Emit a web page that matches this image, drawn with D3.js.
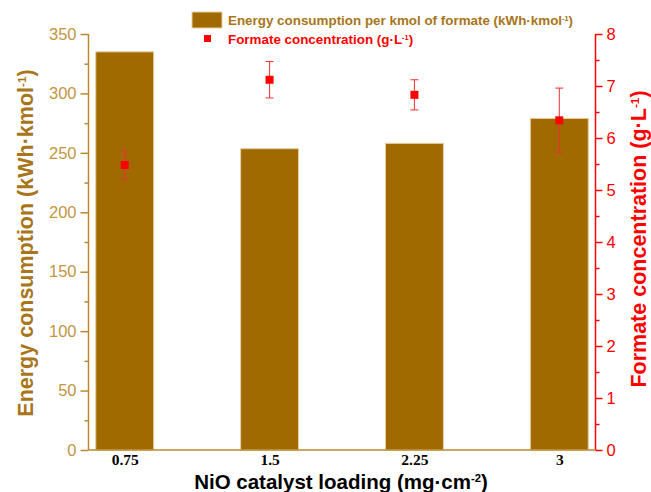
<!DOCTYPE html>
<html><head><meta charset="utf-8">
<script src="https://cdn.jsdelivr.net/npm/d3@7"></script>
<style>body{margin:0;background:#fff}svg{display:block}</style>
</head><body>
<svg id="c" width="651" height="492"></svg>
<script>
const categories = ["0.75", "1.5", "2.25", "3"];
const energy = [335, 253.5, 258, 279];
const formate = [5.48, 7.12, 6.83, 6.34];
const formateErr = [0.27, 0.35, 0.29, 0.62];
const leftTicks = [0, 50, 100, 150, 200, 250, 300, 350];
const rightTicks = [0, 1, 2, 3, 4, 5, 6, 7, 8];

const svg = d3.select("#c");
const L = 88.5, R = 595.5, T = 34, B = 450;
const x = d3.scalePoint().domain(categories).range([L, R]).padding(0.25);
const yL = d3.scaleLinear().domain([0, 350]).range([B, T]);
const yR = d3.scaleLinear().domain([0, 8]).range([B, T]);
const barW = x.step() * 0.4;

const barCol = "#A06A00", axisCol = "#B98A2E", tickTxt = "#C4963F", lblCol = "#A8751A";
const red = "#FF0000";

// bars
svg.append("g").selectAll("rect").data(categories).join("rect")
  .attr("x", (d) => x(d) - barW / 2)
  .attr("width", barW)
  .attr("y", (d, i) => yL(energy[i]))
  .attr("height", (d, i) => B - yL(energy[i]))
  .attr("fill", barCol).attr("stroke", "#E6CFA0").attr("stroke-width", 1);

// left axis
const gl = svg.append("g").attr("transform", `translate(${L},0)`)
  .call(d3.axisLeft(yL).tickValues(leftTicks).tickSize(8).tickPadding(4));
gl.select(".domain").attr("stroke", axisCol).attr("stroke-width", 1.5).attr("d", `M0,${B}V${T}`);
gl.selectAll(".tick line").attr("stroke", axisCol).attr("stroke-width", 1.5);
gl.selectAll(".tick text").attr("fill", tickTxt).style("font-family", "Arial, 'Liberation Sans'").style("font-size", "16.5px");
const glm = svg.append("g").attr("transform", `translate(${L},0)`)
  .call(d3.axisLeft(yL).tickValues(d3.range(25, 350, 50)).tickSize(4).tickFormat(""));
glm.select(".domain").remove();
glm.selectAll(".tick line").attr("stroke", axisCol).attr("stroke-width", 1.5);

// right axis
const gr = svg.append("g").attr("transform", `translate(${R},0)`)
  .call(d3.axisRight(yR).tickValues(rightTicks).tickSize(7).tickPadding(4));
gr.select(".domain").attr("stroke", red).attr("stroke-width", 1.5).attr("d", `M0,${B}V${T}`);
gr.selectAll(".tick line").attr("stroke", red).attr("stroke-width", 1.5);
gr.selectAll(".tick text").attr("fill", red).style("font-family", "Arial, 'Liberation Sans'").style("font-size", "16.5px");
const grm = svg.append("g").attr("transform", `translate(${R},0)`)
  .call(d3.axisRight(yR).tickValues(d3.range(0.5, 8, 1)).tickSize(4).tickFormat(""));
grm.select(".domain").remove();
grm.selectAll(".tick line").attr("stroke", red).attr("stroke-width", 1.5);

// bottom axis
const gb = svg.append("g").attr("transform", `translate(0,${B})`)
  .call(d3.axisBottom(x).tickSize(0).tickPadding(4));
gb.select(".domain").attr("stroke", axisCol).attr("stroke-width", 1.5).attr("d", `M${L},0H${R}`);
gb.selectAll(".tick text").attr("fill", "#000").style("font-family", "'Liberation Serif', 'Times New Roman', serif")
  .style("font-weight", "bold").style("font-size", "15.5px");

// error bars & markers
const eg = svg.append("g");
categories.forEach((c, i) => {
  const cx = x(c), y1 = yR(formate[i] + formateErr[i]), y2 = yR(formate[i] - formateErr[i]);
  eg.append("line").attr("x1", cx).attr("x2", cx).attr("y1", y1).attr("y2", y2).attr("stroke", "#F03030").attr("stroke-width", 1);
  [y1, y2].forEach(yy => eg.append("line").attr("x1", cx - 4).attr("x2", cx + 4).attr("y1", yy).attr("y2", yy).attr("stroke", "#F03030").attr("stroke-width", 1));
});
eg.selectAll("rect").data(categories).join("rect")
  .attr("x", (d) => x(d) - 4).attr("y", (d, i) => yR(formate[i]) - 4)
  .attr("width", 8).attr("height", 8).attr("fill", red);

// axis titles
function title(sel, parts, fs) {
  parts.forEach(p => {
    const t = sel.append("tspan").text(p.t);
    if (p.sup) t.attr("baseline-shift", "60%").style("font-size", (fs * 0.55) + "px");
  });
}
const font = "Arial, 'Liberation Sans', sans-serif";
const tl = svg.append("text").attr("transform", "translate(33,243) rotate(-90)").attr("text-anchor", "middle")
  .attr("fill", lblCol).style("font-family", font).style("font-weight", "bold").style("font-size", "21.5px");
title(tl, [{t: "Energy consumption (kWh·kmol"}, {t: "-1", sup: true}, {t: ")"}], 21.5);
const tr = svg.append("text").attr("transform", "translate(646,239) rotate(-90)").attr("text-anchor", "middle")
  .attr("fill", red).style("font-family", font).style("font-weight", "bold").style("font-size", "21.5px");
title(tr, [{t: "Formate concentration (g·L"}, {t: "-1", sup: true}, {t: ")"}], 21.5);
const tb = svg.append("text").attr("x", 341).attr("y", 489).attr("text-anchor", "middle")
  .attr("fill", "#000").style("font-family", font).style("font-weight", "bold").style("font-size", "20.5px");
title(tb, [{t: "NiO catalyst loading (mg·cm"}, {t: "-2", sup: true}, {t: ")"}], 20.5);

// legend
svg.append("rect").attr("x", 192).attr("y", 12).attr("width", 30).attr("height", 16)
  .attr("fill", barCol).attr("stroke", "#E6CFA0").attr("stroke-width", 1);
const lg1 = svg.append("text").attr("x", 228).attr("y", 25).attr("fill", lblCol)
  .style("font-family", font).style("font-weight", "bold").style("font-size", "13.4px");
title(lg1, [{t: "Energy consumption per kmol of formate (kWh·kmol"}, {t: "-1", sup: true}, {t: ")"}], 13.4);
svg.append("rect").attr("x", 204).attr("y", 35).attr("width", 7).attr("height", 7).attr("fill", red);
const lg2 = svg.append("text").attr("x", 228).attr("y", 44).attr("fill", red)
  .style("font-family", font).style("font-weight", "bold").style("font-size", "13.4px");
title(lg2, [{t: "Formate concentration (g·L"}, {t: "-1", sup: true}, {t: ")"}], 13.4);
</script>
</body></html>
